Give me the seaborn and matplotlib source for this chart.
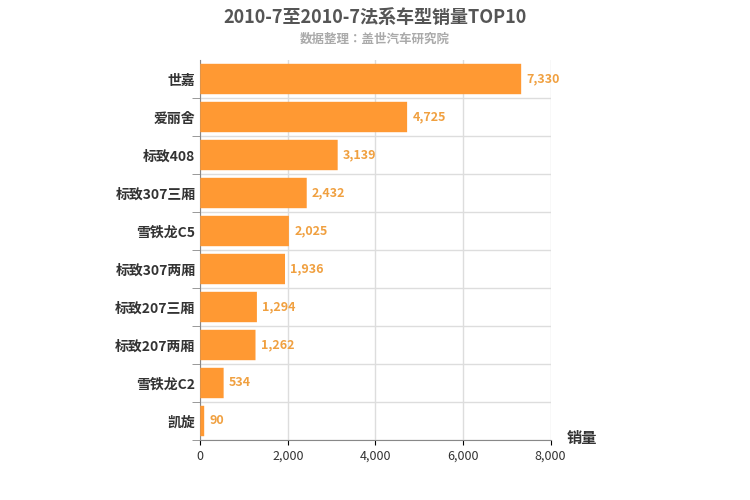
import matplotlib.pyplot as plt
import seaborn as sns
import pandas as pd
import numpy as np
from matplotlib import font_manager
from matplotlib.patches import FancyBboxPatch

# pick whichever CJK font is actually registered
names = {f.name for f in font_manager.fontManager.ttflist}
cjk = [n for n in ['Noto Sans CJK SC', 'Noto Sans CJK JP', 'Noto Sans CJK TC',
                   'Noto Sans CJK KR', 'Noto Sans SC'] if n in names]
if not cjk:
    cjk = [f.name for f in font_manager.fontManager.ttflist if 'CJK' in f.name][:1]
plt.rcParams['font.family'] = cjk + ['DejaVu Sans']

models = ['世嘉', '爱丽舍', '标致408', '标致307三厢', '雪铁龙C5',
          '标致307两厢', '标致207三厢', '标致207两厢', '雪铁龙C2', '凯旋']
sales = [7330, 4725, 3139, 2432, 2025, 1936, 1294, 1262, 534, 90]
xticks = [0, 2000, 4000, 6000, 8000]

df = pd.DataFrame({'model': models, 'sales': sales})

fig = plt.figure(figsize=(7.5, 5), dpi=100)
ax = fig.add_axes([0.267, 0.12, 0.467, 0.76])

sns.barplot(data=df, x='sales', y='model', color='#FF9933', width=0.8, ax=ax)

# swap plain bars for rounded ones
for p in list(ax.patches):
    x, y, w, h = p.get_x(), p.get_y(), p.get_width(), p.get_height()
    p.remove()
    ax.add_patch(FancyBboxPatch((x, y), w, h,
                                boxstyle='round,pad=0,rounding_size=0.2',
                                mutation_aspect=1 / 400.0 if w > 400 else 1 / 2000.0,
                                fc='#FF9933', ec='none', zorder=3))

for i, v in enumerate(sales):
    ax.text(v + 120, i, f'{v:,}', va='center', ha='left', fontsize=9,
            color='#F0A040', fontweight='bold')

ax.set_xlim(0, 8000)
ax.set_ylim(len(models) - 0.5, -0.5)
ax.set_xticks(xticks)
ax.set_xticklabels([f'{t:,}' for t in xticks], fontsize=9, color='#333333')
ax.set_yticks(np.arange(len(models)) + 0.5, minor=True)
ax.tick_params(axis='y', which='major', length=0, labelsize=10)
ax.tick_params(axis='y', which='minor', length=6, color='#888888')
for lab in ax.get_yticklabels():
    lab.set_fontweight('bold')
    lab.set_color('#333333')
ax.grid(axis='x', color='#dddddd', linewidth=1, zorder=0)
ax.grid(axis='y', which='minor', color='#dddddd', linewidth=1, zorder=0)
ax.set_axisbelow(True)
ax.set_xlabel('')
ax.set_ylabel('')
for s in ['top', 'right']:
    ax.spines[s].set_visible(False)
ax.spines['left'].set_color('#888888')
ax.spines['bottom'].set_color('#888888')

fig.text(0.5, 0.965, '2010-7至2010-7法系车型销量TOP10', ha='center', va='center',
         fontsize=13, fontweight='bold', color='#555555')
fig.text(0.5, 0.922, '数据整理：盖世汽车研究院', ha='center', va='center',
         fontsize=9, fontweight='bold', color='#aaaaaa')
fig.text(0.755, 0.125, '销量', ha='left', va='center', fontsize=11,
         fontweight='bold', color='#333333')

fig.savefig('out.png', dpi=100)
